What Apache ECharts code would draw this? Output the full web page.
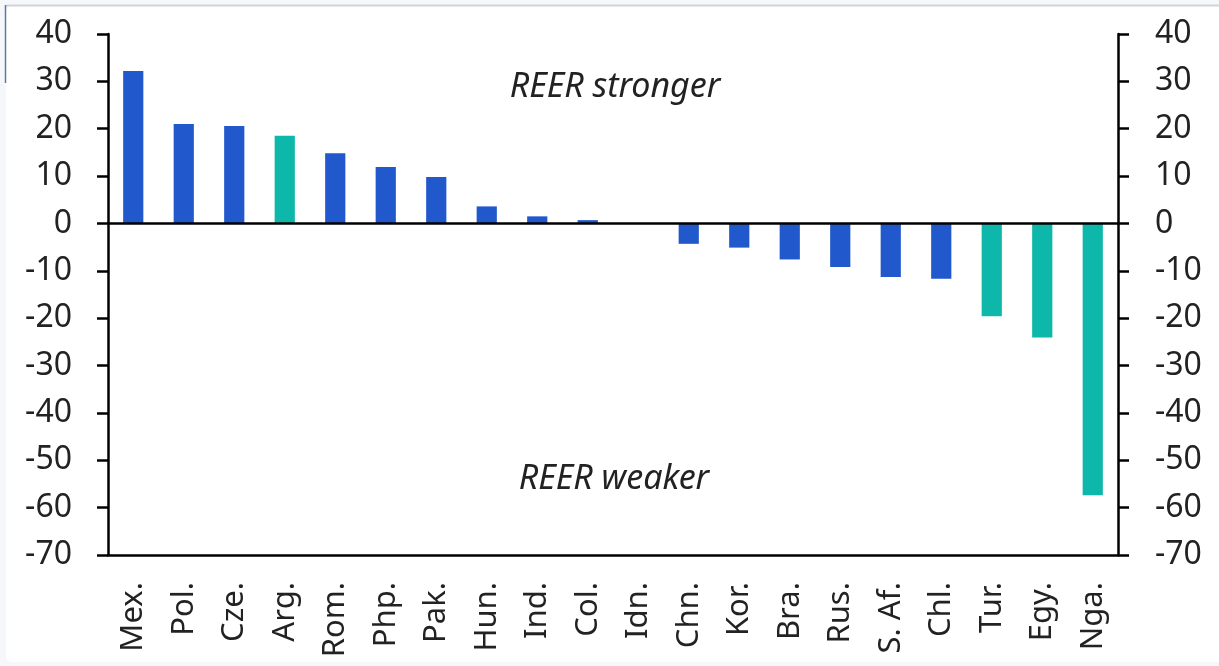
<!DOCTYPE html>
<html>
<head>
<meta charset="utf-8">
<script src="https://cdn.jsdelivr.net/npm/echarts@6/dist/echarts.min.js"></script>
<style>
  html, body { margin: 0; padding: 0; background: #f5f7fa; }
  #chart { width: 1219px; height: 666px; }
</style>
</head>
<body>
<div id="chart"></div>
<script>
// REER deviation by country (%)
const categories = ['Mex.', 'Pol.', 'Cze.', 'Arg.', 'Rom.', 'Php.', 'Pak.', 'Hun.', 'Ind.', 'Col.',
  'Idn.', 'Chn.', 'Kor.', 'Bra.', 'Rus.', 'S. Af.', 'Chl.', 'Tur.', 'Egy.', 'Nga.']
const values = [32.2, 21.0, 20.6, 18.5, 14.8, 11.9, 9.8, 3.6, 1.5, 0.7,
  0, -4.3, -5.1, -7.6, -9.2, -11.3, -11.7, -19.6, -24.1, -57.4]
const highlighted = ['Arg.', 'Tur.', 'Egy.', 'Nga.']
const yTicks = { min: -70, max: 40, interval: 10 }

const BLUE = '#2158cc'
const TEAL = '#0db8aa'
const FONT = 'Noto Sans'

const chart = echarts.init(document.getElementById('chart'))

const yAxisBase = {
  type: 'value',
  min: yTicks.min,
  max: yTicks.max,
  interval: yTicks.interval,
  splitLine: { show: false },
  axisLine: { show: true, lineStyle: { color: '#000', width: 2.5 } },
  axisTick: { show: true, length: 11, lineStyle: { color: '#000', width: 2.5 } },
  axisLabel: { color: '#222', fontSize: 32, fontFamily: FONT }
}

chart.setOption({
  animation: false,
  backgroundColor: 'transparent',
  grid: { left: 108, right: 101, top: 34, bottom: 111 },
  xAxis: {
    type: 'category',
    data: categories,
    axisLine: { onZero: false, lineStyle: { color: '#000', width: 2.5 } },
    axisTick: { length: 12, lineStyle: { color: '#000', width: 2.5 } },
    axisLabel: { rotate: 90, color: '#222', fontSize: 31, fontFamily: FONT, margin: 27, interval: 0 }
  },
  yAxis: [
    Object.assign({}, yAxisBase, { position: 'left',
      axisLabel: Object.assign({}, yAxisBase.axisLabel, { margin: 36 }) }),
    Object.assign({}, yAxisBase, { position: 'right',
      axisLabel: Object.assign({}, yAxisBase.axisLabel, { margin: 37 }) })
  ],
  series: [{
    type: 'bar',
    barWidth: '40%',
    data: values.map((v, i) => ({
      value: v,
      itemStyle: { color: highlighted.includes(categories[i]) ? TEAL : BLUE }
    })),
    markLine: {
      silent: true,
      symbol: 'none',
      label: { show: false },
      lineStyle: { color: '#000', width: 2.5, type: 'solid' },
      data: [{ yAxis: 0 }]
    }
  }],
  graphic: [
    // card behind the chart
    {
      type: 'rect', z: -10, silent: true,
      shape: { x: 6, y: 6, width: 1220, height: 656, r: 6 },
      style: { fill: '#fff' }
    },
    {
      type: 'line', z: -9, silent: true,
      shape: { x1: 6, y1: 5.5, x2: 1219, y2: 5.5 },
      style: { stroke: '#d2d4d8', lineWidth: 2 }
    },
    {
      type: 'line', z: -9, silent: true,
      shape: { x1: 5.5, y1: 5, x2: 5.5, y2: 83 },
      style: { stroke: '#5a78a8', lineWidth: 1.5 }
    },
    {
      type: 'text', x: 615, y: 70,
      style: { text: 'REER stronger', fontSize: 34, fontStyle: 'italic', fontFamily: FONT, fill: '#222', align: 'center' }
    },
    {
      type: 'text', x: 614, y: 462,
      style: { text: 'REER weaker', fontSize: 34, fontStyle: 'italic', fontFamily: FONT, fill: '#222', align: 'center' }
    }
  ]
})
</script>
</body>
</html>
